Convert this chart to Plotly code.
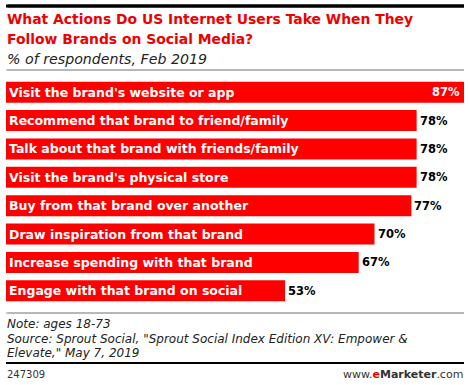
import plotly.graph_objects as go

categories = [
    "Visit the brand's website or app",
    "Recommend that brand to friend/family",
    "Talk about that brand with friends/family",
    "Visit the brand's physical store",
    "Buy from that brand over another",
    "Draw inspiration from that brand",
    "Increase spending with that brand",
    "Engage with that brand on social",
]
values = [87, 78, 78, 78, 77, 70, 67, 53]
value_labels = ["87%", "78%", "78%", "78%", "77%", "70%", "67%", "53%"]

title_lines = ["What Actions Do US Internet Users Take When They",
               "Follow Brands on Social Media?"]
subtitle = "% of respondents, Feb 2019"
note = "Note: ages 18-73"
source_lines = ['Source: Sprout Social, "Sprout Social Index Edition XV: Empower &',
                'Elevate," May 7, 2019']
chart_id = "247309"

RED = "#ff0000"
FONT = "DejaVu Sans"
W, H = 470, 385
ML, MR, MT, MB = 6, 6, 78, 80
PW, PH = W - ML - MR, H - MT - MB

fig = go.Figure()
fig.add_trace(go.Bar(
    x=values, y=categories, orientation="h",
    marker=dict(color=RED, line=dict(width=0)),
    hoverinfo="skip",
))

annotations = []
for i, (c, v, lab) in enumerate(zip(categories, values, value_labels)):
    annotations.append(dict(x=0, y=c, xref="x", yref="y", text="<b>%s</b>" % c,
                            showarrow=False, xanchor="left", xshift=1,
                            font=dict(family=FONT, size=12.5, color="white")))
    inside = v == max(values)
    annotations.append(dict(x=v, y=c, xref="x", yref="y", text="<b>%s</b>" % lab,
                            showarrow=False,
                            xanchor="right" if inside else "left",
                            xshift=-2 if inside else 1,
                            font=dict(family=FONT, size=11.5,
                                      color="white" if inside else "black")))

def px_x(x):
    return (x - ML) / PW

def px_y(y):
    return (H - MB - y) / PH

def txt(x, y, text, size, color="#222222", anchor="left"):
    return dict(x=px_x(x), y=px_y(y), xref="paper", yref="paper", xanchor=anchor,
                yanchor="middle", text=text, showarrow=False,
                font=dict(family=FONT, size=size, color=color))

def rule(y, color, thick):
    # horizontal rule drawn as a headless annotation arrow
    return dict(x=px_x(464), y=px_y(y), xref="paper", yref="paper",
                ax=-458, ay=0, axref="pixel", ayref="pixel",
                text="", showarrow=True, arrowhead=0, arrowwidth=thick,
                arrowcolor=color, standoff=0, startstandoff=0)

annotations += [
    rule(6, "#000000", 3),
    rule(70, "#a0a0a0", 1),
    rule(313, "#a0a0a0", 1),
    rule(363, "#000000", 2),
    txt(5, 19, "<b>%s</b>" % title_lines[0], 13.9, "#ee0000"),
    txt(5, 39, "<b>%s</b>" % title_lines[1], 13.9, "#ee0000"),
    txt(5, 59, "<i>%s</i>" % subtitle, 14.2),
    txt(5, 324, "<i>%s</i>" % note, 12),
    txt(5, 338.5, "<i>%s</i>" % source_lines[0], 12),
    txt(5, 352.5, "<i>%s</i>" % source_lines[1], 12),
    txt(5, 374, chart_id, 10, "#333333"),
    txt(465, 374, 'www.<b><span style="color:#ee0000">e</span>Marketer</b>.com', 11,
        "#333333", "right"),
]

def hline(y, color, width):
    return dict(type="line", xref="paper", yref="paper", layer="above",
                x0=px_x(6), x1=px_x(464), y0=px_y(y), y1=px_y(y),
                line=dict(color=color, width=width))

shapes = [
    hline(6, "#000000", 3),
    hline(70, "#a0a0a0", 1),
    hline(313, "#a0a0a0", 1),
    hline(363, "#000000", 2),
]

fig.update_layout(
    width=W, height=H,
    margin=dict(l=ML, r=MR, t=MT, b=MB),
    paper_bgcolor="white", plot_bgcolor="white",
    showlegend=False,
    bargap=0.26,
    xaxis=dict(range=[0, max(values)], visible=False, fixedrange=True),
    yaxis=dict(autorange="reversed", visible=False, fixedrange=True),
    annotations=annotations,
    shapes=shapes,
)

fig.write_html("out.html", config=dict(displayModeBar=False),
               post_script="document.body.style.margin='0';document.body.style.overflow='hidden';")
